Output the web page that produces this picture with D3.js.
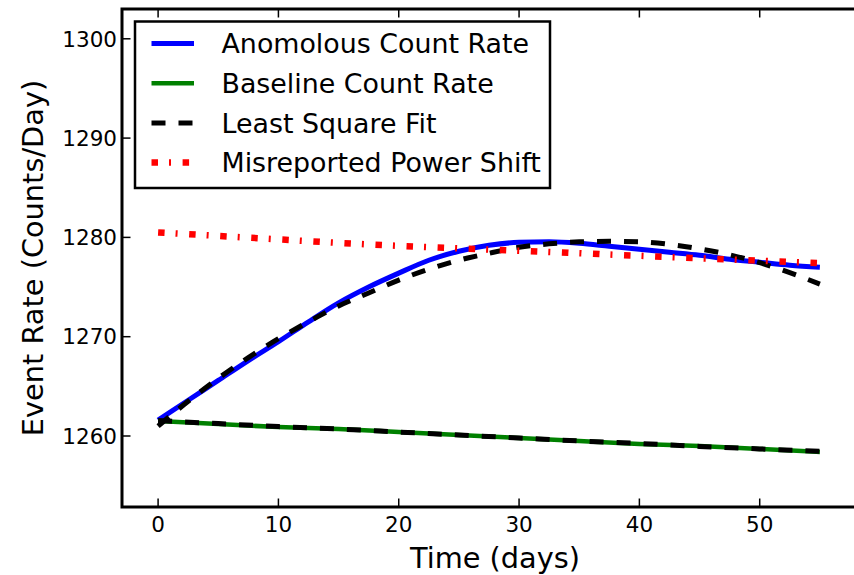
<!DOCTYPE html>
<html>
<head>
<meta charset="utf-8">
<script src="https://cdn.jsdelivr.net/npm/d3@7"></script>
<style>
  html, body { margin: 0; padding: 0; background: #fff; }
  svg { display: block; font-family: "DejaVu Sans", sans-serif; }
</style>
</head>
<body>
<svg id="chart" width="854" height="575"></svg>
<script>
// ---- data ----
const daysFine = [0, 2.5, 5, 7.5, 10, 12.5, 15, 17.5, 20, 22.5, 25, 27.5, 30, 32.5, 35, 37.5, 40, 42.5, 45, 47.5, 50, 52.5, 55];
const anomalousRate = [1261.6, 1263.6, 1265.6, 1267.6, 1269.5, 1271.5, 1273.4, 1275.0, 1276.4, 1277.7, 1278.6, 1279.2, 1279.5, 1279.55, 1279.4, 1279.1, 1278.8, 1278.5, 1278.2, 1277.8, 1277.5, 1277.2, 1277.0];
const anomalousFit = [1261.0, 1263.5, 1265.8, 1267.9, 1269.8, 1271.5, 1273.1, 1274.4, 1275.7, 1276.8, 1277.7, 1278.4, 1279.0, 1279.35, 1279.55, 1279.6, 1279.55, 1279.3, 1278.85, 1278.25, 1277.45, 1276.45, 1275.3];

const daysCoarse = [0, 5, 10, 15, 20, 25, 30, 35, 40, 45, 50, 55];
const baselineRate = [1261.5, 1261.2, 1260.9, 1260.7, 1260.4, 1260.1, 1259.8, 1259.5, 1259.2, 1259.0, 1258.7, 1258.4];
const baselineFit = [1261.55, 1261.25, 1260.95, 1260.7, 1260.4, 1260.1, 1259.8, 1259.5, 1259.25, 1258.95, 1258.7, 1258.45];
const powerShift = [1280.5, 1280.15, 1279.8, 1279.45, 1279.15, 1278.9, 1278.65, 1278.4, 1278.15, 1277.9, 1277.65, 1277.4];

const xTicks = [0, 10, 20, 30, 40, 50];
const yTicks = [1260, 1270, 1280, 1290, 1300];
const legendLabels = ["Anomolous Count Rate", "Baseline Count Rate", "Least Square Fit", "Misreported Power Shift"];

// ---- layout ----
const svg = d3.select("#chart");
const L = 122, R = 868, T = 9, B = 507;
const x = d3.scaleLinear().domain([-3, 59]).range([L, R]);
const y = d3.scaleLinear().domain([1252.85, 1303]).range([B, T]);

const styles = {
  blue:  { color: "#0000ff", width: 5, dash: null },
  green: { color: "#008000", width: 4.5, dash: null },
  fit:   { color: "#000000", width: 5, dash: "14,13" },
  red:   { color: "#ff0000", width: 6.5, dash: "6.5,11,2,11.6" }
};

const line = (xs) => d3.line()
  .x((d, i) => x(xs[i]))
  .y(d => y(d))
  .curve(d3.curveMonotoneX);

const plot = svg.append("g");
function draw(xs, ys, st) {
  plot.append("path")
    .attr("d", line(xs)(ys))
    .attr("fill", "none")
    .attr("stroke", st.color)
    .attr("stroke-width", st.width)
    .attr("stroke-dasharray", st.dash)
    .attr("stroke-linejoin", "round");
}
draw(daysFine, anomalousRate, styles.blue);
draw(daysCoarse, baselineRate, styles.green);
draw(daysFine, anomalousFit, styles.fit);
draw(daysCoarse, baselineFit, styles.fit);
draw(daysCoarse, powerShift, styles.red);

// ---- axes ----
const tickLen = 8.5;
const axisG = svg.append("g");
xTicks.forEach(t => {
  axisG.append("line").attr("x1", x(t)).attr("x2", x(t)).attr("y1", B).attr("y2", B - tickLen)
    .attr("stroke", "#000").attr("stroke-width", 1.5);
  axisG.append("line").attr("x1", x(t)).attr("x2", x(t)).attr("y1", T).attr("y2", T + tickLen)
    .attr("stroke", "#000").attr("stroke-width", 1.5);
  axisG.append("text").attr("x", x(t)).attr("y", 532).attr("text-anchor", "middle")
    .attr("font-size", 21.5).attr("fill", "#000").text(t);
});
yTicks.forEach(t => {
  axisG.append("line").attr("x1", L).attr("x2", L + tickLen).attr("y1", y(t)).attr("y2", y(t))
    .attr("stroke", "#000").attr("stroke-width", 1.5);
  axisG.append("line").attr("x1", R).attr("x2", R - tickLen).attr("y1", y(t)).attr("y2", y(t))
    .attr("stroke", "#000").attr("stroke-width", 1.5);
  axisG.append("text").attr("x", 117).attr("y", y(t)).attr("dy", "0.36em").attr("text-anchor", "end")
    .attr("font-size", 21.5).attr("fill", "#000").text(t);
});
axisG.append("rect").attr("x", L).attr("y", T).attr("width", R - L).attr("height", B - T)
  .attr("fill", "none").attr("stroke", "#000").attr("stroke-width", 3);

// axis labels
svg.append("text").attr("x", 495).attr("y", 568).attr("text-anchor", "middle")
  .attr("font-size", 28.8).attr("fill", "#000").text("Time (days)");
svg.append("text").attr("transform", "translate(43,258) rotate(-90)").attr("text-anchor", "middle")
  .attr("font-size", 28.8).attr("fill", "#000").text("Event Rate (Counts/Day)");

// ---- legend ----
const leg = svg.append("g");
leg.append("rect").attr("x", 135).attr("y", 21.5).attr("width", 415).attr("height", 166.5)
  .attr("fill", "#fff").attr("stroke", "#000").attr("stroke-width", 2.5);
const legStyles = [styles.blue, styles.green, styles.fit, styles.red];
const rowY = [43.5, 83.3, 123, 162.5];
legendLabels.forEach((lab, i) => {
  const st = legStyles[i];
  leg.append("line").attr("x1", 151.5).attr("x2", 194).attr("y1", rowY[i]).attr("y2", rowY[i])
    .attr("stroke", st.color).attr("stroke-width", st.width).attr("stroke-dasharray", st.dash);
  leg.append("text").attr("x", 221.5).attr("y", rowY[i] + 9.6).attr("font-size", 26.85)
    .attr("fill", "#000").text(lab);
});
</script>
</body>
</html>
